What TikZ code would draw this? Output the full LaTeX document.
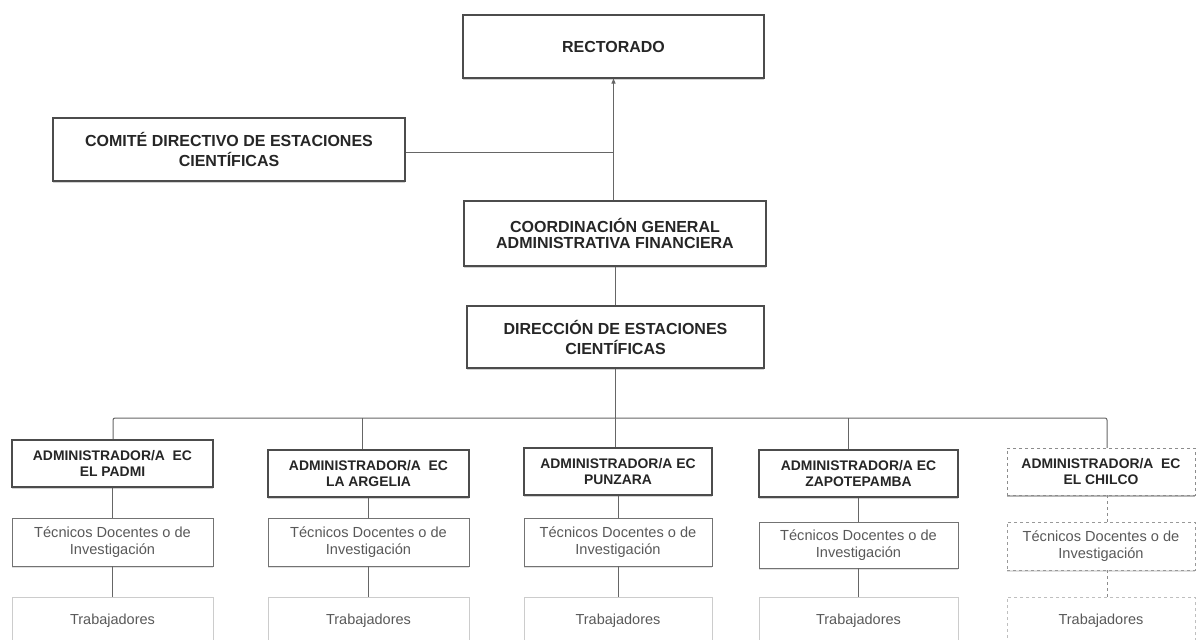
\documentclass[tikz,border=0pt]{standalone}
\usepackage{fontspec}
\setmainfont{Liberation Sans}
\usetikzlibrary{shadows,arrows.meta}
\begin{document}
\begin{tikzpicture}[x=1pt,y=-1pt,
  hbox/.style={draw=black!70, line width=1.1pt, fill=white, align=center, inner sep=0pt,
    font=\fontsize{16}{16.5}\selectfont\bfseries, text=black!85,
    drop shadow={shadow xshift=0pt, shadow yshift=-2pt, opacity=0.18, fill=black}},
  wide/.style={font=\fontsize{16}{20}\selectfont\bfseries},
  abox/.style={draw=black!70, line width=1.1pt, fill=white, align=center, inner sep=0pt,
    font=\fontsize{13.9}{16}\selectfont\bfseries, text=black!85,
    drop shadow={shadow xshift=0pt, shadow yshift=-2pt, opacity=0.18, fill=black}},
  tbox/.style={draw=black!55, line width=0.9pt, fill=white, align=center, inner sep=0pt,
    font=\fontsize{14.6}{17.5}\selectfont, text=black!65,
    drop shadow={shadow xshift=0pt, shadow yshift=-1.5pt, opacity=0.12, fill=black}},
  wbox/.style={draw=black!20, line width=0.8pt, fill=white, align=center, inner sep=0pt,
    font=\fontsize{14.5}{16}\selectfont, text=black!65},
  dabox/.style={abox, draw=black!45, line width=0.8pt, dashed, drop shadow={shadow xshift=0pt, shadow yshift=-1.5pt, opacity=0.12, fill=black}},
  dtbox/.style={tbox, draw=black!40, line width=0.8pt, dashed},
  dwbox/.style={wbox, draw=black!25, dashed},
  conn/.style={draw=black!60, line width=1pt},
  dconn/.style={draw=black!45, line width=0.8pt, dashed}
]
\useasboundingbox (0,0) rectangle (1197,640);
\clip (0,0) rectangle (1197,640);
\fill[white] (0,0) rectangle (1197,640);

% top levels
\node[hbox, minimum width=301pt, minimum height=63pt] (rect) at (613.5,46.5) {RECTORADO};
\node[hbox, wide, minimum width=352pt, minimum height=63pt] (comite) at (229,149.5) {COMITÉ DIRECTIVO DE ESTACIONES\\CIENTÍFICAS};
\node[hbox, minimum width=302pt, minimum height=65pt] (coord) at (615,233.5) {COORDINACIÓN GENERAL\\ADMINISTRATIVA FINANCIERA};
\node[hbox, wide, minimum width=297pt, minimum height=62pt] (dir) at (615.5,337) {DIRECCIÓN DE ESTACIONES\\CIENTÍFICAS};

\coordinate (j) at (613.5,152);
\draw[conn, -{Triangle[length=5pt,width=4pt]}] (coord.north -| rect.south) -- (rect.south);
\draw[conn] (comite.east |- j) -- (j);
\draw[conn] (coord.south -| dir.north) -- (dir.north);

% horizontal bus
\coordinate (b1) at (113,418);
\coordinate (b2) at (362,418);
\coordinate (b3) at (615,418);
\coordinate (b4) at (848,418);
\coordinate (b5) at (1107,418);
\draw[conn] (dir.south -| b3) -- (b3);
\draw[conn, rounded corners=2pt] (b1 |- 0,440) -- (b1) -- (b5) -- (b5 |- 0,448);

% administrators
\node[abox, minimum width=201pt, minimum height=47pt] (a1) at (112.5,463.5) {ADMINISTRADOR/A~~EC\\EL PADMI};
\node[abox, minimum width=201pt, minimum height=47pt] (a2) at (368.5,473.5) {ADMINISTRADOR/A~~EC\\LA ARGELIA};
\node[abox, minimum width=188pt, minimum height=47pt] (a3) at (618,471.5) {ADMINISTRADOR/A EC\\PUNZARA};
\node[abox, minimum width=199pt, minimum height=47pt] (a4) at (858.5,473.5) {ADMINISTRADOR/A EC\\ZAPOTEPAMBA};
\node[dabox, minimum width=188pt, minimum height=47pt] (a5) at (1101,471.5) {ADMINISTRADOR/A~~EC\\EL CHILCO};

\draw[conn] (b2) -- (b2 |- a2.north);
\draw[conn] (b3) -- (b3 |- a3.north);
\draw[conn] (b4) -- (b4 |- a4.north);

% técnicos
\node[tbox, minimum width=201pt, minimum height=48pt] (t1) at (112.5,542) {Técnicos Docentes o de\\Investigación};
\node[tbox, minimum width=201pt, minimum height=48pt] (t2) at (368.5,542) {Técnicos Docentes o de\\Investigación};
\node[tbox, minimum width=188pt, minimum height=48pt] (t3) at (618,542) {Técnicos Docentes o de\\Investigación};
\node[tbox, minimum width=199pt, minimum height=46pt] (t4) at (858.5,545) {Técnicos Docentes o de\\Investigación};
\node[dtbox, minimum width=188pt, minimum height=48pt] (t5) at (1101,546) {Técnicos Docentes o de\\Investigación};

% trabajadores
\node[wbox, minimum width=201pt, minimum height=48pt] (w1) at (112.5,621) {Trabajadores};
\node[wbox, minimum width=201pt, minimum height=48pt] (w2) at (368.5,621) {Trabajadores};
\node[wbox, minimum width=188pt, minimum height=48pt] (w3) at (618,621) {Trabajadores};
\node[wbox, minimum width=199pt, minimum height=48pt] (w4) at (858.5,621) {Trabajadores};
\node[dwbox, minimum width=188pt, minimum height=48pt] (w5) at (1101,621) {Trabajadores};

\draw[conn] (a1) -- (t1);
\draw[conn] (t1) -- (w1);
\draw[conn] (a2) -- (t2);
\draw[conn] (t2) -- (w2);
\draw[conn] (a3) -- (t3);
\draw[conn] (t3) -- (w3);
\draw[conn] (a4) -- (t4);
\draw[conn] (t4) -- (w4);
\draw[dconn] (a5.south -| b5) -- (t5.north -| b5);
\draw[dconn] (t5.south -| b5) -- (w5.north -| b5);
\end{tikzpicture}
\end{document}
